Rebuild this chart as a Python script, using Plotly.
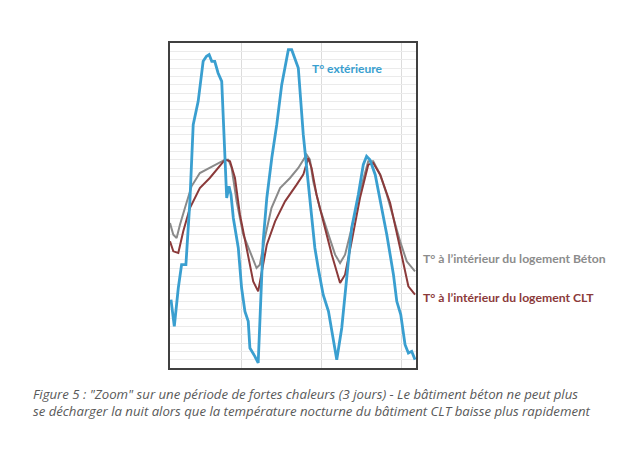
import plotly.graph_objects as go

# hours relative to the first day boundary, temperatures in °C
ext_hours = [-21.4, -20.4, -19.2, -18.2, -16.9, -15.7, -14.7, -13.2, -11.7, -10.7, -9.9, -9.1, -8.2,
             -7.2, -6.1, -5.1, -4.6, -3.9, -3.3, -2.6, -1.1, -0.1, 0.9, 1.9, 2.4, 3.9, 4.9, 6.4, 7.5,
             9.0, 10.5, 12.0, 13.3, 14.0, 15.0, 16.0, 17.0, 18.5, 19.5, 21.0, 22.0, 23.0, 24.5, 26.1,
             27.6, 28.6, 30.1, 31.6, 33.1, 35.1, 36.6, 37.6, 38.6, 40.2, 41.7, 43.7, 45.7, 46.7, 47.9,
             49.2, 50.2, 51.2, 52.2]
ext_temp = [22.1, 20.5, 22.8, 24.2, 24.2, 28.0, 32.6, 34.0, 36.4, 36.7, 36.8, 36.4, 36.4,
            35.7, 35.2, 30.4, 28.2, 28.9, 28.4, 27.0, 25.2, 22.8, 21.4, 20.8, 19.2, 18.7, 18.3, 25.6, 28.2,
            30.6, 32.6, 35.0, 36.5, 37.1, 37.1, 36.5, 36.0, 32.0, 30.0, 26.8, 25.2, 24.0, 22.4, 21.4,
            19.8, 18.5, 20.4, 23.6, 26.4, 28.4, 30.2, 30.7, 30.5, 29.6, 28.0, 26.0, 23.6, 22.0, 21.2,
            19.4, 18.9, 19.0, 18.5]

beton_hours = [-21.7, -20.7, -19.7, -18.7, -17.2, -15.2, -12.7, -9.7, -7.2, -5.1, -4.1, -3.1, -1.6,
               0.4, 2.4, 4.4, 5.4, 6.9, 8.9, 11.5, 14.5, 17.0, 19.5, 20.5, 21.5, 23.5, 26.1, 28.1,
               29.6, 31.1, 33.1, 35.6, 38.1, 39.6, 41.7, 43.7, 45.7, 47.7, 49.7, 52.2]
beton_temp = [26.7, 26.0, 25.8, 26.6, 27.6, 28.9, 29.7, 30.0, 30.3, 30.5, 30.5, 30.0, 28.0,
              26.0, 25.0, 24.0, 24.2, 25.8, 27.6, 28.8, 29.4, 30.0, 30.8, 30.5, 29.2, 27.6, 26.0, 24.8,
              24.3, 24.8, 26.4, 28.6, 30.4, 30.4, 29.6, 28.4, 27.0, 25.6, 24.4, 23.8]

clt_hours = [-21.7, -20.7, -19.2, -17.7, -15.7, -12.7, -9.7, -7.2, -5.1, -3.6, -2.1, -0.6, 1.4,
             3.4, 4.9, 5.9, 7.5, 10.0, 13.0, 16.5, 18.5, 20.0, 21.0, 22.5, 24.5, 27.1, 29.6, 31.1,
             33.1, 35.6, 38.1, 39.6, 41.7, 44.7, 47.7, 50.2, 52.2]
clt_temp = [25.6, 25.0, 24.9, 26.2, 27.6, 28.8, 29.4, 30.0, 30.5, 30.4, 29.4, 27.2, 25.2,
            23.2, 22.6, 23.6, 25.4, 26.8, 28.0, 29.0, 29.6, 30.6, 30.0, 28.4, 26.8, 24.8, 23.1, 23.6,
            25.6, 28.2, 30.2, 30.3, 29.6, 27.9, 25.2, 22.9, 22.4]

BLUE = "#3a9fd0"
GRAY = "#8a8a8a"
BROWN = "#8b3a3a"

fig = go.Figure()

fig.add_trace(go.Scatter(x=beton_hours, y=beton_temp, mode="lines",
                         line=dict(color=GRAY, width=2), showlegend=False))
fig.add_trace(go.Scatter(x=clt_hours, y=clt_temp, mode="lines",
                         line=dict(color=BROWN, width=2), showlegend=False))
fig.add_trace(go.Scatter(x=ext_hours, y=ext_temp, mode="lines",
                         line=dict(color=BLUE, width=2.8), showlegend=False))

label_font = "Lato"
fig.add_annotation(text="<b>T° extérieure</b>", xref="paper", yref="paper",
                   x=0.72, y=0.923, xanchor="center", yanchor="middle", showarrow=False,
                   font=dict(family=label_font, size=12, color=BLUE))
fig.add_annotation(text="<b>T° à l’intérieur du logement Béton</b>", xref="paper", yref="paper",
                   x=1.022, y=0.338, xanchor="left", yanchor="middle", showarrow=False,
                   font=dict(family=label_font, size=12.2, color="#8c8c8c"))
fig.add_annotation(text="<b>T° à l’intérieur du logement CLT</b>", xref="paper", yref="paper",
                   x=1.022, y=0.218, xanchor="left", yanchor="middle", showarrow=False,
                   font=dict(family=label_font, size=12.2, color=BROWN))

# caption under the chart
fig.add_annotation(
    text="<i>Figure 5 : \"Zoom\" sur une période de fortes chaleurs (3 jours) - Le bâtiment béton ne peut plus<br>"
         "se décharger la nuit alors que la température nocturne du bâtiment CLT baisse plus rapidement</i>",
    xref="paper", yref="paper", x=-0.565, y=-0.045, xanchor="left", yanchor="top",
    align="left", showarrow=False,
    font=dict(family="Open Sans", size=13.2, color="#595959"))

# page body adds 8px, so the figure is drawn 16px smaller than the window
fig.update_layout(
    width=604, height=449,
    margin=dict(l=162, r=196, t=35, b=89),
    paper_bgcolor="white", plot_bgcolor="white",
    xaxis=dict(range=[-21.7, 52.5], tick0=0, dtick=24, showticklabels=False,
               ticks="", showgrid=True, gridcolor="#dcdcdc", gridwidth=1, zeroline=False,
               showline=True, linecolor="#404040", linewidth=1.5, mirror=True),
    yaxis=dict(range=[18, 37.5], dtick=0.5, showticklabels=False, ticks="",
               showgrid=True, gridcolor="#ebebeb", gridwidth=1, zeroline=False,
               showline=True, linecolor="#404040", linewidth=1.5, mirror=True),
)

fig.write_html("out.html")
